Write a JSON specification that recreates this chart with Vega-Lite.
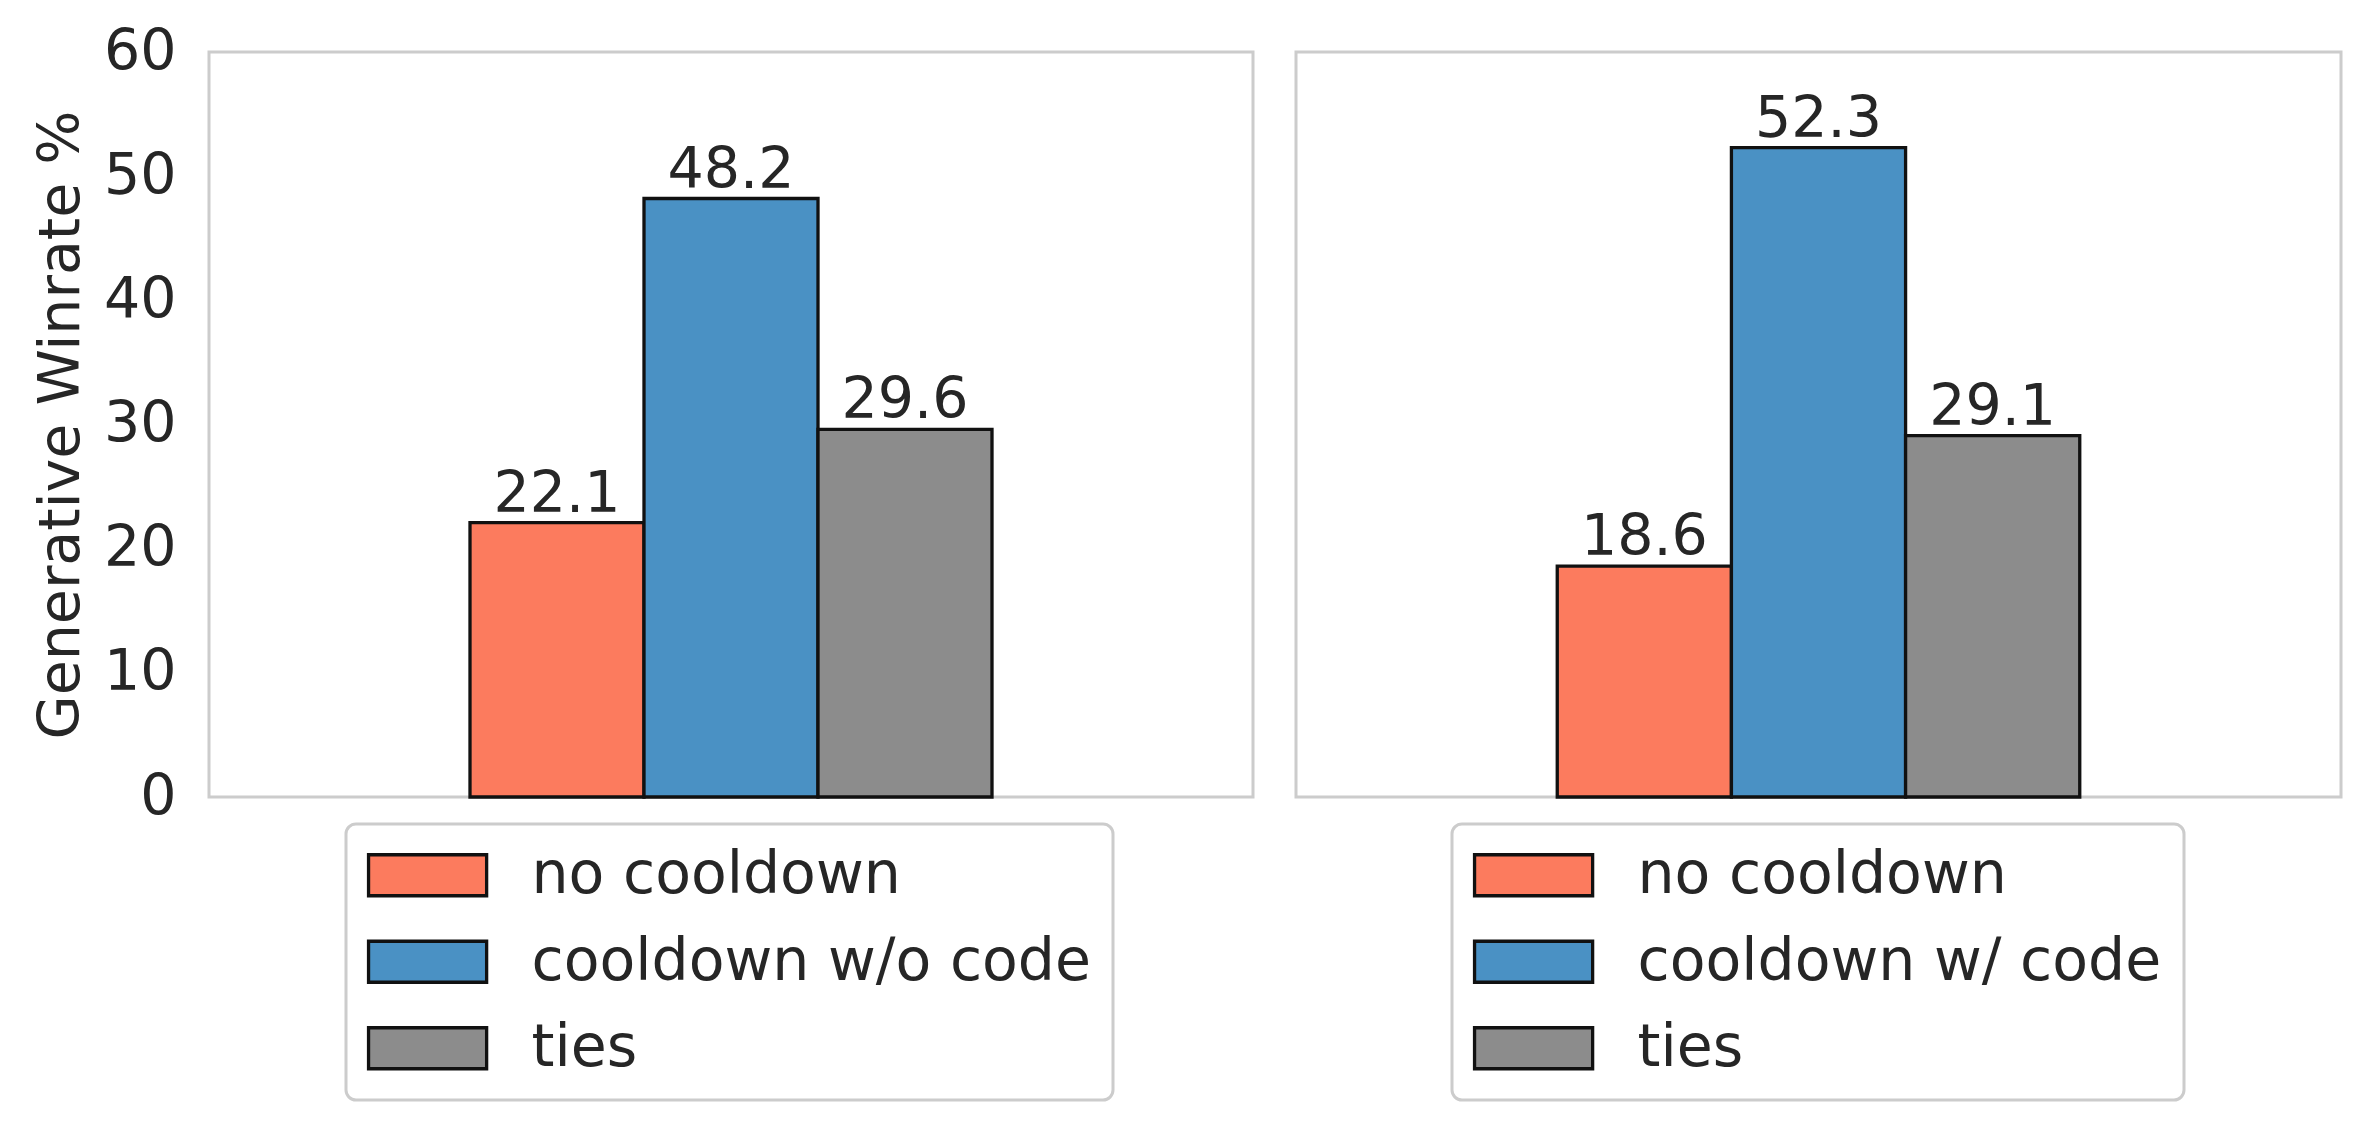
{
  "$schema": "https://vega.github.io/schema/vega-lite/v6.json",
  "background": "white",
  "padding": {"left": 30, "top": 21, "right": 0, "bottom": 0},
  "datasets": {
    "winrates": [
      {"panel": "left", "series": "no cooldown", "winrate": 22.1},
      {"panel": "left", "series": "cooldown w/o code", "winrate": 48.2},
      {"panel": "left", "series": "ties", "winrate": 29.6},
      {"panel": "right", "series": "no cooldown", "winrate": 18.6},
      {"panel": "right", "series": "cooldown w/ code", "winrate": 52.3},
      {"panel": "right", "series": "ties", "winrate": 29.1}
    ]
  },
  "config": {
    "font": "DejaVu Sans",
    "view": {"stroke": "#cccccc", "strokeWidth": 3},
    "axis": {
      "labelFontSize": 57,
      "labelColor": "#262626",
      "titleFontSize": 57,
      "titleFontWeight": "normal",
      "titleColor": "#262626",
      "grid": false,
      "ticks": false,
      "tickSize": 0,
      "domain": false
    },
    "legend": {
      "title": null,
      "orient": "none",
      "labelFontSize": 58.5,
      "labelColor": "#262626",
      "labelLimit": 1000,
      "labelOffset": 105,
      "rowPadding": 27.5,
      "padding": 22,
      "strokeColor": "#cccccc",
      "fillColor": "white",
      "cornerRadius": 10,
      "symbolType": "M-1.4,-1H4.36V1H-1.4Z",
      "symbolSize": 1681,
      "symbolStrokeColor": "#111111",
      "symbolStrokeWidth": 3.3,
      "symbolOpacity": 1
    }
  },
  "spacing": 39,
  "resolve": {
    "scale": {"x": "independent", "color": "independent"},
    "legend": {"color": "independent"}
  },
  "hconcat": [
    {
      "width": 1044,
      "height": 745,
      "data": {"name": "winrates"},
      "transform": [{"filter": "datum.panel == 'left'"}],
      "encoding": {
        "x": {
          "field": "series",
          "type": "nominal",
          "scale": {"domain": ["pad start", "no cooldown", "cooldown w/o code", "ties", "pad end"], "paddingInner": 0, "paddingOuter": 0.5},
          "axis": null
        },
        "y": {
          "field": "winrate",
          "type": "quantitative",
          "scale": {"domain": [0, 60], "nice": false},
          "axis": {
            "title": "Generative Winrate %",
            "values": [0, 10, 20, 30, 40, 50, 60],
            "labelPadding": 33,
            "titlePadding": 13
          }
        }
      },
      "layer": [
        {
          "mark": {"type": "bar", "stroke": "#111111", "strokeWidth": 3.3, "opacity": 1},
          "encoding": {
            "color": {
              "field": "series",
              "type": "nominal",
              "scale": {
                "domain": ["no cooldown", "cooldown w/o code", "ties"],
                "range": ["#fc7b5e", "#4a91c4", "#8c8c8c"]
              },
              "legend": {
                "legendX": 137,
                "legendY": 772,
                "encode": {"legend": {"update": {"strokeWidth": {"value": 3}}}}
              }
            }
          }
        },
        {
          "mark": {"type": "text", "baseline": "alphabetic", "dy": -11, "fontSize": 57, "color": "#262626"},
          "encoding": {
            "text": {"field": "winrate", "type": "quantitative", "format": ".1f"}
          }
        }
      ]
    },
    {
      "width": 1045,
      "height": 745,
      "data": {"name": "winrates"},
      "transform": [{"filter": "datum.panel == 'right'"}],
      "encoding": {
        "x": {
          "field": "series",
          "type": "nominal",
          "scale": {"domain": ["pad start", "no cooldown", "cooldown w/ code", "ties", "pad end"], "paddingInner": 0, "paddingOuter": 0.5},
          "axis": null
        },
        "y": {
          "field": "winrate",
          "type": "quantitative",
          "scale": {"domain": [0, 60], "nice": false},
          "axis": null
        }
      },
      "layer": [
        {
          "mark": {"type": "bar", "stroke": "#111111", "strokeWidth": 3.3, "opacity": 1},
          "encoding": {
            "color": {
              "field": "series",
              "type": "nominal",
              "scale": {
                "domain": ["no cooldown", "cooldown w/ code", "ties"],
                "range": ["#fc7b5e", "#4a91c4", "#8c8c8c"]
              },
              "legend": {
                "legendX": 156,
                "legendY": 772,
                "encode": {"legend": {"update": {"strokeWidth": {"value": 3}}}}
              }
            }
          }
        },
        {
          "mark": {"type": "text", "baseline": "alphabetic", "dy": -11, "fontSize": 57, "color": "#262626"},
          "encoding": {
            "text": {"field": "winrate", "type": "quantitative", "format": ".1f"}
          }
        }
      ]
    }
  ]
}
